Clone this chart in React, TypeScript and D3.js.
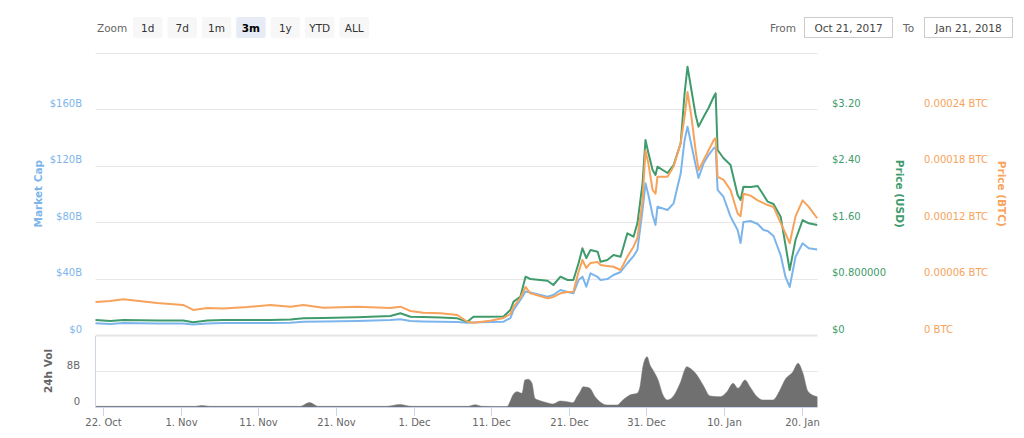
import React from 'react';
import * as d3 from 'd3';

// ---------- DATA ----------
const dates = [
  "2017-10-21T00","2017-10-22T22","2017-10-24T14","2017-10-28T23","2017-11-01T07","2017-11-02T14","2017-11-04T10","2017-11-06T11",
  "2017-11-09T14","2017-11-12T13","2017-11-15T03","2017-11-16T19","2017-11-19T09","2017-11-23T18","2017-11-28T00","2017-11-29T07",
  "2017-11-30T14","2017-12-02T06","2017-12-04T11","2017-12-06T15","2017-12-07T22","2017-12-08T17","2017-12-10T21","2017-12-12T14",
  "2017-12-13T11","2017-12-13T21","2017-12-14T18","2017-12-15T10","2017-12-16T01","2017-12-18T06","2017-12-19T00","2017-12-19T22",
  "2017-12-20T20","2017-12-21T14","2017-12-22T06","2017-12-22T18","2017-12-23T06","2017-12-23T19","2017-12-24T17","2017-12-25T02",
  "2017-12-25T23","2017-12-26T18","2017-12-27T16","2017-12-28T13","2017-12-29T08","2017-12-29T20","2017-12-30T12","2017-12-30T21",
  "2017-12-31T06","2017-12-31T19","2018-01-01T04","2018-01-01T10","2018-01-02T17","2018-01-03T12","2018-01-04T10","2018-01-04T22",
  "2018-01-05T07","2018-01-05T19","2018-01-06T08","2018-01-06T17","2018-01-07T09","2018-01-08T00","2018-01-08T16","2018-01-08T22",
  "2018-01-09T04","2018-01-09T22","2018-01-10T20","2018-01-11T18","2018-01-12T03","2018-01-12T12","2018-01-13T10","2018-01-14T08",
  "2018-01-15T02","2018-01-15T15","2018-01-16T09","2018-01-17T07","2018-01-17T22","2018-01-18T11","2018-01-19T05","2018-01-20T03",
  "2018-01-20T22","2018-01-22T00"
];

// Market cap, billions USD
const marketCapB = [
  8.3, 7.8, 8.5, 8.1, 8.1, 7.4, 8.1, 8.5, 8.5, 8.5, 8.6, 9.3, 9.6, 9.9, 10.6, 11.1, 9.9, 9.6, 9.3, 9.2, 8.7, 8.9, 9.2, 9.4,
  12.0, 17.7, 24.8, 30.8, 30.1, 27.1, 28.3, 31.9, 30.4, 29.5, 38.9, 41.3, 34.2, 43.7, 41.1, 38.9,
  39.6, 42.5, 44.6, 50.8, 55.9, 60.2, 88.5, 107.4, 99.1, 85.0, 77.9, 90.8, 88.5, 93.2, 114.5, 138.1,
  147.5, 134.5, 120.4, 111.2, 121.6, 127.4, 132.2, 133.1, 102.7, 97.9, 83.8, 74.3, 65.1, 80.0, 80.7, 78.6,
  74.3, 73.6, 70.1, 56.6, 41.1, 34.0, 55.4, 64.9, 61.4, 60.5
];

// Price in USD
const priceUSD = [
  0.212, 0.198, 0.212, 0.205, 0.205, 0.180, 0.205, 0.212, 0.212, 0.212, 0.219, 0.236, 0.241, 0.251, 0.269, 0.307,
  0.259, 0.255, 0.248, 0.236, 0.188, 0.259, 0.259, 0.262,
  0.354, 0.472, 0.542, 0.826, 0.793, 0.769, 0.708, 0.826, 0.779, 0.779, 1.015, 1.228, 1.090, 1.204, 1.180, 1.038,
  1.062, 1.133, 1.109, 1.440, 1.392, 1.582, 2.152, 2.761, 2.577, 2.336, 2.266, 2.383, 2.294, 2.407, 2.719, 3.423,
  3.799, 3.469, 3.115, 2.950, 3.091, 3.214, 3.374, 3.423, 2.620, 2.506, 2.407, 1.982, 1.912, 2.100, 2.096, 2.110,
  1.982, 1.888, 1.855, 1.675, 1.274, 0.920, 1.345, 1.628, 1.582, 1.558
];

// Price in BTC
const priceBTC = [
  0.0000350, 0.0000361, 0.0000379, 0.0000340, 0.0000319, 0.0000266, 0.0000287, 0.0000281, 0.0000297, 0.0000319,
  0.0000301, 0.0000319, 0.0000290, 0.0000301, 0.0000287, 0.0000301, 0.0000255, 0.0000237, 0.0000230, 0.0000212,
  0.0000141, 0.0000131, 0.0000152, 0.0000181,
  0.0000223, 0.0000301, 0.0000393, 0.0000510, 0.0000443, 0.0000390, 0.0000404, 0.0000443, 0.0000457, 0.0000460,
  0.0000669, 0.0000797, 0.0000712, 0.0000765, 0.0000775, 0.0000743, 0.0000733, 0.0000725, 0.0000690, 0.0000832,
  0.0000938, 0.000103, 0.000143, 0.000196, 0.000182, 0.000154, 0.000150, 0.000168, 0.000168, 0.000179,
  0.000204, 0.000232, 0.000258, 0.000232, 0.000196, 0.000175, 0.000186, 0.000196, 0.000207, 0.000209,
  0.000168, 0.000165, 0.000154, 0.000129, 0.000126, 0.000150, 0.000148, 0.000143, 0.000140, 0.000138,
  0.000136, 0.000119, 0.000108, 0.0000974, 0.000126, 0.000143, 0.000136, 0.000124
];

// 24h volume, billions USD
const volDates = [
  "2017-10-21T00","2017-11-02T19","2017-11-03T17","2017-11-04T19","2017-11-16T09","2017-11-17T14","2017-11-18T17",
  "2017-11-27T12","2017-11-29T05","2017-11-30T17","2017-12-08T00","2017-12-08T22","2017-12-09T19",
  "2017-12-13T01","2017-12-13T10","2017-12-13T19","2017-12-14T08","2017-12-14T23","2017-12-15T08","2017-12-15T18",
  "2017-12-16T06","2017-12-16T15","2017-12-17T07","2017-12-18T04","2017-12-18T23","2017-12-19T21","2017-12-20T18",
  "2017-12-21T13","2017-12-22T01","2017-12-22T11","2017-12-22T20","2017-12-23T08","2017-12-23T17","2017-12-24T09",
  "2017-12-25T00","2017-12-25T22","2017-12-27T05","2017-12-27T23","2017-12-28T21","2017-12-29T19","2017-12-30T04",
  "2017-12-30T13","2017-12-31T02","2017-12-31T11","2017-12-31T20","2018-01-01T12","2018-01-02T03","2018-01-02T16",
  "2018-01-03T10","2018-01-04T08","2018-01-05T05","2018-01-05T15","2018-01-06T12","2018-01-07T07","2018-01-08T05",
  "2018-01-09T12","2018-01-10T09","2018-01-11T04","2018-01-11T19","2018-01-12T17","2018-01-13T08","2018-01-14T06",
  "2018-01-15T00","2018-01-16T07","2018-01-17T05","2018-01-17T20","2018-01-18T21","2018-01-19T13","2018-01-20T04",
  "2018-01-20T20","2018-01-22T00"
];
const volumeB = [
  0.15, 0.15, 0.35, 0.15, 0.15, 1.0, 0.15,
  0.15, 0.55, 0.15, 0.15, 0.5, 0.15,
  0.1, 1.18, 2.67, 3.40, 3.04, 6.0, 6.15,
  5.27, 1.93, 1.40, 0.96, 0.67, 1.33, 1.18,
  0.96, 2.29, 3.40, 4.51, 4.38, 4.16, 2.29,
  1.18, 0.44, 0.44, 1.56, 2.67, 3.04, 4.51,
  8.96, 11.18, 9.33, 8.22, 6.0, 2.67, 1.56,
  2.29, 5.27, 8.96, 8.6, 7.11, 4.89, 2.44,
  2.29, 3.40, 5.27, 4.16, 6.0, 4.51, 2.29,
  1.56, 1.56, 3.78, 6.0, 7.84, 9.71, 7.49,
  3.40, 2.29
];

const xTickDates = ["2017-10-22T00","2017-11-01T00","2017-11-11T00","2017-11-21T00","2017-12-01T00","2017-12-11T00","2017-12-21T00","2017-12-31T00","2018-01-10T00","2018-01-20T00"];
const xTickLabels = ["22. Oct","1. Nov","11. Nov","21. Nov","1. Dec","11. Dec","21. Dec","31. Dec","10. Jan","20. Jan"];

const capTicks = [0, 40, 80, 120, 160, 200];
const capTickLabels = ["$0", "$40B", "$80B", "$120B", "$160B", ""];
const usdTicks = [0, 0.8, 1.6, 2.4, 3.2];
const usdTickLabels = ["$0", "$0.800000", "$1.60", "$2.40", "$3.20"];
const btcTicks = [0, 0.00006, 0.00012, 0.00018, 0.00024];
const btcTickLabels = ["0 BTC", "0.00006 BTC", "0.00012 BTC", "0.00018 BTC", "0.00024 BTC"];
const volTicks = [0, 8, 16];
const volTickLabels = ["0", "8B", ""];

const zoomButtons = ["1d", "7d", "1m", "3m", "1y", "YTD", "ALL"];
const selectedZoom = "3m";
const fromDate = "Oct 21, 2017";
const toDate = "Jan 21, 2018";

// ---------- STYLE ----------
const FONT = "'DejaVu Sans', Verdana, sans-serif";
const BLUE = "#7cb5ec";
const GREEN = "#3f9b6c";
const ORANGE = "#f7a35c";
const GREY = "#666666";
const GRID = "#e6e6e6";
const AXIS = "#ccd6eb";

const parse = d3.utcParse("%Y-%m-%dT%H");

export default function App() {
  const W = 1024, H = 438;
  const left = 95.5, right = 817.5;
  const mainTop = 52.5, mainBottom = 335;
  const volTop = 335, volBottom = 407;

  const x = d3.scaleUtc()
    .domain([parse("2017-10-21T00") as Date, parse("2018-01-22T01") as Date])
    .range([left, right]);
  const yCap = d3.scaleLinear().domain([0, 200]).range([mainBottom, mainTop]);
  const yUsd = d3.scaleLinear().domain([0, 4]).range([mainBottom, mainTop]);
  const yBtc = d3.scaleLinear().domain([0, 0.0003]).range([mainBottom, mainTop]);
  const yVol = d3.scaleLinear().domain([0, 16]).range([volBottom, volTop]);

  const t = dates.map((d) => parse(d) as Date);
  const vt = volDates.map((d) => parse(d) as Date);

  const mk = (vals: number[], ys: d3.ScaleLinear<number, number>) =>
    d3.line<number>().x((_, i) => x(t[i])).y((v) => ys(v)).curve(d3.curveLinear)(vals) || "";

  const volArea = d3.area<number>()
    .x((_, i) => x(vt[i]))
    .y0(yVol(0))
    .y1((v) => yVol(v))
    .curve(d3.curveMonotoneX)(volumeB) || "";

  // zoom buttons layout
  const btnX0 = 133, btnW = 29.5, btnGap = 4.9;

  return (
    <svg width={W} height={H} style={{ position: "absolute", left: 0, top: 0, display: "block" }} fontFamily={FONT}>
      <rect x={0} y={0} width={W} height={H} fill="#fff" />

      {/* Range selector */}
      <text x={97} y={31.5} fontSize={10.5} fill={GREY}>Zoom</text>
      {zoomButtons.map((b, i) => {
        const bx = btnX0 + i * (btnW + btnGap);
        const sel = b === selectedZoom;
        return (
          <g key={b}>
            <rect x={bx} y={17} width={btnW} height={21} rx={2} fill={sel ? "#e6ebf5" : "#f7f7f7"} />
            <text x={bx + btnW / 2} y={31.5} fontSize={10.5} textAnchor="middle" fill={sel ? "#000" : "#333"} fontWeight={sel ? "bold" : "normal"}>{b}</text>
          </g>
        );
      })}
      <text x={770} y={31.5} fontSize={10.5} fill={GREY}>From</text>
      <rect x={804.5} y={17.5} width={88} height={20} fill="#fff" stroke="#cccccc" />
      <text x={848.5} y={31.5} fontSize={10.5} textAnchor="middle" fill="#444">{fromDate}</text>
      <text x={903} y={31.5} fontSize={10.5} fill={GREY}>To</text>
      <rect x={924.5} y={17.5} width={88} height={20} fill="#fff" stroke="#cccccc" />
      <text x={968.5} y={31.5} fontSize={10.5} textAnchor="middle" fill="#444">{toDate}</text>

      {/* main grid */}
      {capTicks.map((v) => (
        <line key={"g" + v} x1={left} x2={right} y1={Math.round(yCap(v)) + 0.5} y2={Math.round(yCap(v)) + 0.5}
          stroke={GRID} strokeWidth={v === 0 ? 2 : 1} />
      ))}
      {/* volume grid */}
      {volTicks.filter((v) => v > 0 && v < 16).map((v) => (
        <line key={"vg" + v} x1={left} x2={right} y1={Math.round(yVol(v)) + 0.5} y2={Math.round(yVol(v)) + 0.5} stroke={GRID} />
      ))}

      {/* left axis labels */}
      {capTicks.map((v, i) => capTickLabels[i] ? (
        <text key={"cl" + v} x={82} y={yCap(v) - 2.5} fontSize={10} textAnchor="end" fill={BLUE}>{capTickLabels[i]}</text>
      ) : null)}
      {usdTicks.map((v, i) => (
        <text key={"ul" + v} x={832} y={yUsd(v) - 2.5} fontSize={10} fill={GREEN}>{usdTickLabels[i]}</text>
      ))}
      {btcTicks.map((v, i) => (
        <text key={"bl" + v} x={924} y={yBtc(v) - 2.5} fontSize={10} fill={ORANGE}>{btcTickLabels[i]}</text>
      ))}
      {volTicks.map((v, i) => volTickLabels[i] ? (
        <text key={"vl" + v} x={80} y={yVol(v) - 2.5} fontSize={10} textAnchor="end" fill={GREY}>{volTickLabels[i]}</text>
      ) : null)}

      {/* axis titles */}
      <text transform={`translate(38,${(mainTop + mainBottom) / 2}) rotate(-90)`} textAnchor="middle" dominantBaseline="central"
        fontSize={10.5} fontWeight="bold" fill={BLUE}>Market Cap</text>
      <text transform={`translate(900,${(mainTop + mainBottom) / 2}) rotate(90)`} textAnchor="middle" dominantBaseline="central"
        fontSize={10.5} fontWeight="bold" fill={GREEN}>Price (USD)</text>
      <text transform={`translate(1002,${(mainTop + mainBottom) / 2}) rotate(90)`} textAnchor="middle" dominantBaseline="central"
        fontSize={10.5} fontWeight="bold" fill={ORANGE}>Price (BTC)</text>
      <text transform={`translate(48,${(volTop + volBottom) / 2}) rotate(-90)`} textAnchor="middle" dominantBaseline="central"
        fontSize={10.5} fontWeight="bold" fill={GREY}>24h Vol</text>

      {/* volume */}
      <path d={volArea} fill="#707070" stroke="#777" strokeWidth={0.5} />

      {/* vol pane axes */}
      <line x1={left} x2={left} y1={volTop + 1} y2={volBottom} stroke={AXIS} />
      <line x1={left} x2={right} y1={volBottom + 0.5} y2={volBottom + 0.5} stroke={AXIS} />
      {xTickDates.map((d, i) => {
        const xx = Math.round(x(parse(d) as Date)) + 0.5;
        return (
          <g key={d}>
            <line x1={xx} x2={xx} y1={volBottom} y2={volBottom + 9} stroke={AXIS} />
            <text x={xx} y={426} fontSize={10} textAnchor="middle" fill={GREY}>{xTickLabels[i]}</text>
          </g>
        );
      })}

      {/* lines */}
      <path d={mk(marketCapB, yCap)} fill="none" stroke={BLUE} strokeWidth={2} strokeLinejoin="round" />
      <path d={mk(priceUSD, yUsd)} fill="none" stroke={GREEN} strokeWidth={2} strokeLinejoin="round" />
      <path d={mk(priceBTC, yBtc)} fill="none" stroke={ORANGE} strokeWidth={2} strokeLinejoin="round" />
    </svg>
  );
}
